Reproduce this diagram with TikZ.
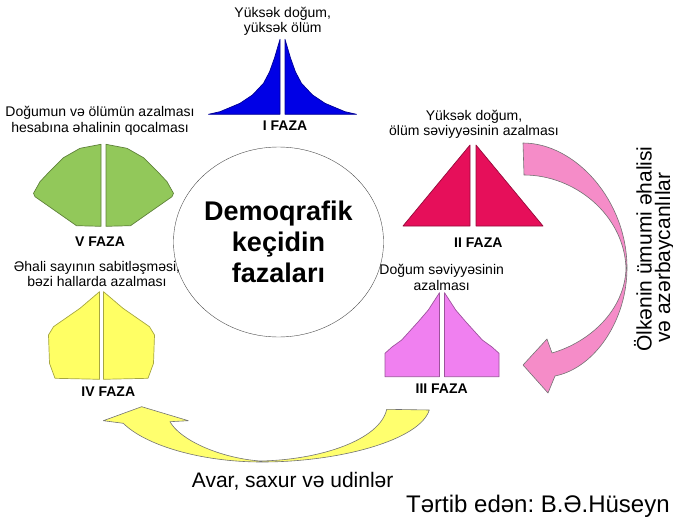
\documentclass[tikz,border=0pt]{standalone}
\usepackage{fontspec}
\setmainfont{Liberation Sans}
\usetikzlibrary{positioning, shapes.geometric}
\frenchspacing

\definecolor{fazaI}{RGB}{0,0,230}
\definecolor{fazaII}{RGB}{230,15,90}
\definecolor{fazaIII}{RGB}{240,128,240}
\definecolor{fazaIV}{RGB}{255,255,100}
\definecolor{fazaV}{RGB}{146,200,90}
\definecolor{arrowpink}{RGB}{245,140,200}
\definecolor{arrowyellow}{RGB}{255,255,110}

\begin{document}
\begin{tikzpicture}[x=1pt, y=-1pt,
        desc/.style={font=\fontsize{14}{15.5}\selectfont, align=center, inner sep=0pt},
        faza/.style={font=\fontsize{14}{16}\selectfont\bfseries, inner sep=0pt},
        half/.style={fill=#1, draw=#1!65!black, line width=0.7pt, line join=round},
        bigarrow/.style={fill=#1, draw=black!55, line width=0.6pt, line join=round},
        side/.style={font=\fontsize{21}{19}\selectfont, rotate=90, anchor=base, inner sep=0pt},
        note/.style={anchor=base west, inner sep=0pt},
    ]
    \useasboundingbox (0,0) rectangle (673,522);

    % Centre circle
    \node[draw=black!70, ellipse, minimum width=199pt, minimum height=190pt, inner sep=0pt,
          align=center, font=\fontsize{27}{31}\selectfont\bfseries] (core) at (278.5,242)
          {Demoqrafik\\keçidin\\fazaları};

    % I FAZA
    \foreach \s in {-1,1} {
        \draw[half=fazaI, shift={(282.5,0)}, xscale=\s]
            (2.5,39.3) -- (8,58) -- (13,72) -- (19,83.3) -- (30,95) -- (42.5,103.3)
            -- (62.5,111.7) -- (74,114.3) -- (2.5,114.3) -- cycle;
    }
    \node[desc] (descI) at (282.7,21.3) {Yüksək doğum,\\yüksək ölüm};
    \node[faza] (labI) at (285,126) {I FAZA};

    % II FAZA
    \foreach \s in {-1,1} {
        \draw[half=fazaII, shift={(473,0)}, xscale=\s]
            (3,145) -- (70,226) -- (3,226) -- cycle;
    }
    \node[desc] (descII) at (474,124.5) {Yüksək doğum,\\ölüm səviyyəsinin azalması};
    \node[faza] (labII) at (478.3,242.3) {II FAZA};

    % III FAZA
    \foreach \s in {-1,1} {
        \draw[half=fazaIII, shift={(442,0)}, xscale=\s]
            (2.5,292.7) -- (13.7,310) -- (24,322) -- (40.3,340) -- (50,347) -- (57,353.3)
            -- (57,376.7) -- (2.5,376.7) -- cycle;
    }
    \node[desc] (descIII) at (441.7,277.5) {Doğum səviyyəsinin\\azalması};
    \node[faza] (labIII) at (441.7,389) {III FAZA};

    % IV FAZA
    \foreach \s in {-1,1} {
        \draw[half=fazaIV, shift={(101.5,0)}, xscale=\s]
            (2,291.7) -- (21.5,308.3) -- (48,326.7) -- (53,335) -- (52,363.3)
            -- (46.5,378.3) -- (2,379.3) -- cycle;
    }
    \node[desc] (descIV) at (97,274) {Əhali sayının sabitləşməsi,\\bəzi hallarda azalması};
    \node[faza] (labIV) at (108.3,391.7) {IV FAZA};

    % V FAZA
    \foreach \s in {-1,1} {
        \draw[half=fazaV, shift={(103.5,0)}, xscale=\s]
            (2.5,144.3) -- (23.5,148.3) -- (40,157.7) -- (53.5,171) -- (63.5,181.7)
            -- (70,193.3) -- (68.5,196.7) -- (47,211.7) -- (27,225.7) -- (2.5,226.3) -- cycle;
    }
    \node[desc] (descV) at (100,121) {Doğumun və ölümün azalması\\hesabına əhalinin qocalması};
    \node[faza] (labV) at (100,242) {V FAZA};

    % Pink arrow: II -> III
    \draw[bigarrow=arrowpink] (523,143)
        .. controls (575,143) and (627,200) .. (627,268)
        .. controls (627,320) and (595,368) .. (555,376)
        -- (548,393) -- (523,365) -- (547,339) -- (552,353)
        .. controls (590,342) and (625,310) .. (626,268)
        .. controls (624,215) and (575,175) .. (524,175) -- cycle;

    % Yellow arrow: III -> IV
    \draw[bigarrow=arrowyellow] (386.7,409.3) -- (429.3,410)
        .. controls (420,440) and (340,462) .. (262,462)
        .. controls (200,462) and (145,445) .. (123.3,423.3)
        -- (103.3,420.7) -- (141.7,406.7) -- (188.3,420.7) -- (170,421.7)
        .. controls (180,440) and (220,458) .. (260,461)
        .. controls (320,460) and (380,440) .. (386.7,409.3) -- cycle;

    % Side and bottom notes
    \node[side] (total) at (651.7,249) {Ölkənin ümumi əhalisi};
    \node[side] (azeri) at (670,257.5) {və azərbaycanlılar};
    \node[note, font=\fontsize{21}{23}\selectfont] (minor) at (191.7,487) {Avar, saxur və udinlər};
    \node[note, font=\fontsize{24}{26}\selectfont] (author) at (406,512) {Tərtib edən: B.Ə.Hüseyn};
\end{tikzpicture}
\end{document}
